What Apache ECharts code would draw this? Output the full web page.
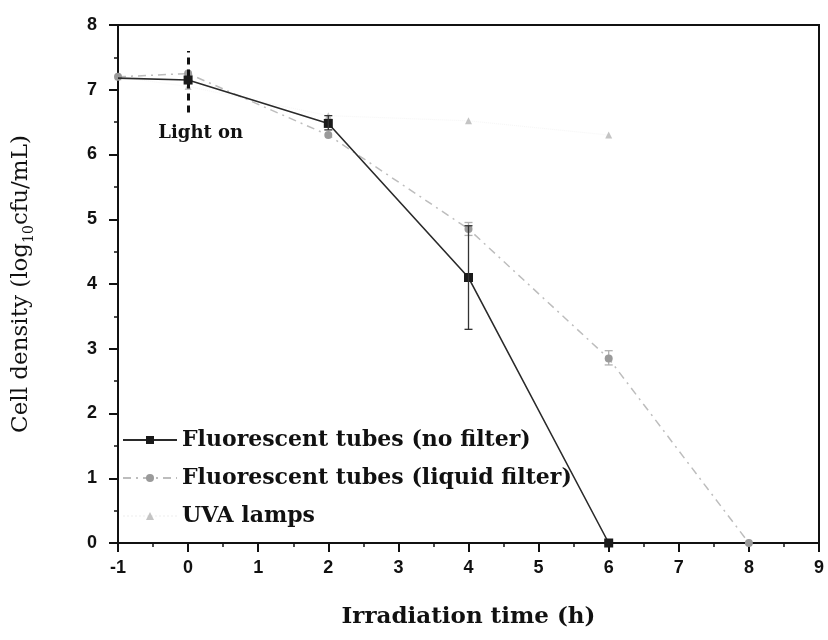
<!DOCTYPE html>
<html>
<head>
<meta charset="utf-8">
<script src="https://cdn.jsdelivr.net/npm/echarts@6/dist/echarts.min.js"></script>
<style>
  html, body { margin: 0; padding: 0; background: #fff; }
  #chart { width: 828px; height: 640px; }
</style>
</head>
<body>
<div id="chart"></div>
<script>
// Irradiation time (h) and cell density (log10 cfu/mL) for each light source
const noFilterTime = [-1, 0, 2, 4, 6];
const noFilterDensity = [7.18, 7.15, 6.48, 4.10, 0.00];

const liquidFilterTime = [-1, 0, 2, 4, 6, 8];
const liquidFilterDensity = [7.20, 7.25, 6.30, 4.85, 2.85, 0.00];

const uvaTime = [-1, 0, 2, 4, 6];
const uvaDensity = [7.20, 7.05, 6.60, 6.52, 6.30];

// Error bars: [time, low, high]
const noFilterErrors = [[2, 6.38, 6.60], [4, 3.30, 4.90]];
const liquidFilterErrors = [[4, 4.75, 4.95], [6, 2.75, 2.97]];

// "Light on" marker at t = 0
const lightOnTime = 0;
const lightOnRange = [6.65, 7.60];
const lightOnLabelAt = [0.18, 6.33];

const seriesNames = [
  'Fluorescent tubes (no filter)',
  'Fluorescent tubes (liquid filter)',
  'UVA lamps'
];

const xRange = [-1, 9];
const yRange = [0, 8];

const pairs = (xs, ys) => xs.map((x, i) => [x, ys[i]]);

function errorBarRenderer(color) {
  return function (params, api) {
    const x = api.value(0);
    const lo = api.coord([x, api.value(1)]);
    const hi = api.coord([x, api.value(2)]);
    const cap = 4;
    const style = { stroke: color, lineWidth: 1.3 };
    return {
      type: 'group',
      children: [
        { type: 'line', shape: { x1: lo[0], y1: lo[1], x2: hi[0], y2: hi[1] }, style },
        { type: 'line', shape: { x1: lo[0] - cap, y1: lo[1], x2: lo[0] + cap, y2: lo[1] }, style },
        { type: 'line', shape: { x1: hi[0] - cap, y1: hi[1], x2: hi[0] + cap, y2: hi[1] }, style }
      ]
    };
  };
}

const noFilterData = pairs(noFilterTime, noFilterDensity).map((p, i) =>
  i === 0 ? { value: p, symbol: 'none' } : p);

const chart = echarts.init(document.getElementById('chart'), null, { renderer: 'canvas' });

const labelFont = { fontFamily: '"Liberation Sans", Arial, sans-serif', fontWeight: 'bold', fontSize: 18, color: '#111' };

chart.setOption({
  animation: false,
  backgroundColor: '#fff',
  grid: {
    left: 117, right: 9, top: 25, bottom: 97,
    show: true, borderColor: '#111', borderWidth: 2, backgroundColor: 'transparent'
  },
  legend: {
    orient: 'vertical',
    left: 117,
    top: 423,
    itemWidth: 54,
    itemHeight: 10,
    itemGap: 14,
    data: seriesNames,
    textStyle: {
      fontFamily: '"DejaVu Serif", serif',
      fontWeight: 'bold',
      fontSize: 22,
      lineHeight: 24,
      color: '#111'
    }
  },
  xAxis: {
    type: 'value',
    min: xRange[0], max: xRange[1], interval: 1,
    splitLine: { show: false },
    axisLine: { onZero: false, lineStyle: { color: '#111', width: 2 } },
    axisTick: { inside: false, length: 9, lineStyle: { color: '#111', width: 2 } },
    minorTick: { show: true, splitNumber: 2, length: 4, lineStyle: { color: '#111', width: 1.5 } },
    axisLabel: Object.assign({ margin: 16 }, labelFont),
    name: 'Irradiation time (h)',
    nameLocation: 'middle',
    nameGap: 63,
    nameTextStyle: {
      fontFamily: '"DejaVu Serif", serif',
      fontWeight: 'bold',
      fontSize: 23,
      color: '#111'
    }
  },
  yAxis: {
    type: 'value',
    min: yRange[0], max: yRange[1], interval: 1,
    splitLine: { show: false },
    axisLine: { onZero: false, lineStyle: { color: '#111', width: 2 } },
    axisTick: { inside: false, length: 9, lineStyle: { color: '#111', width: 2 } },
    minorTick: { show: true, splitNumber: 2, length: 4, lineStyle: { color: '#111', width: 1.5 } },
    axisLabel: Object.assign({ margin: 21 }, labelFont),
    name: '{a|Cell density (log}{s|10}{a|cfu/mL)}',
    nameLocation: 'middle',
    nameGap: 82,
    nameTextStyle: {
      rich: {
        a: { fontFamily: '"DejaVu Serif", serif', fontSize: 23, color: '#111', lineHeight: 30, verticalAlign: 'middle' },
        s: { fontFamily: '"DejaVu Serif", serif', fontSize: 14, color: '#111', lineHeight: 30, verticalAlign: 'bottom', padding: [14, 0, 0, 0] }
      }
    }
  },
  series: [
    {
      name: seriesNames[0],
      type: 'line',
      data: noFilterData,
      symbol: 'rect',
      symbolSize: 9,
      showAllSymbol: true,
      z: 5,
      itemStyle: { color: '#1a1a1a' },
      lineStyle: { color: '#2a2a2a', width: 1.6 },
      markLine: {
        silent: true,
        symbol: 'none',
        label: { show: false },
        lineStyle: { color: '#111', width: 3, type: [7, 5] },
        data: [[{ coord: [lightOnTime, lightOnRange[0]] }, { coord: [lightOnTime, lightOnRange[1]] }]]
      },
      markPoint: {
        silent: true,
        symbol: 'circle',
        symbolSize: 0,
        data: [{ coord: lightOnLabelAt }],
        label: {
          show: true,
          position: 'inside',
          formatter: 'Light on',
          fontFamily: '"DejaVu Serif", serif',
          fontWeight: 'bold',
          fontSize: 18,
          color: '#111'
        }
      }
    },
    {
      name: seriesNames[1],
      type: 'line',
      data: pairs(liquidFilterTime, liquidFilterDensity),
      symbol: 'circle',
      symbolSize: 8,
      z: 4,
      itemStyle: { color: '#9a9a9a' },
      lineStyle: { color: '#bdbdbd', width: 1.5, type: [8, 5, 2, 5] }
    },
    {
      name: seriesNames[2],
      type: 'line',
      data: pairs(uvaTime, uvaDensity),
      symbol: 'triangle',
      symbolSize: 7,
      z: 3,
      itemStyle: { color: '#c4c4c4' },
      lineStyle: { color: '#f6f6f6', width: 1, type: 'dotted' }
    },
    {
      type: 'custom',
      name: 'noFilterErr',
      data: noFilterErrors,
      renderItem: errorBarRenderer('#333'),
      z: 6,
      silent: true
    },
    {
      type: 'custom',
      name: 'liquidErr',
      data: liquidFilterErrors,
      renderItem: errorBarRenderer('#b0b0b0'),
      z: 2,
      silent: true
    }
  ]
});
</script>
</body>
</html>
